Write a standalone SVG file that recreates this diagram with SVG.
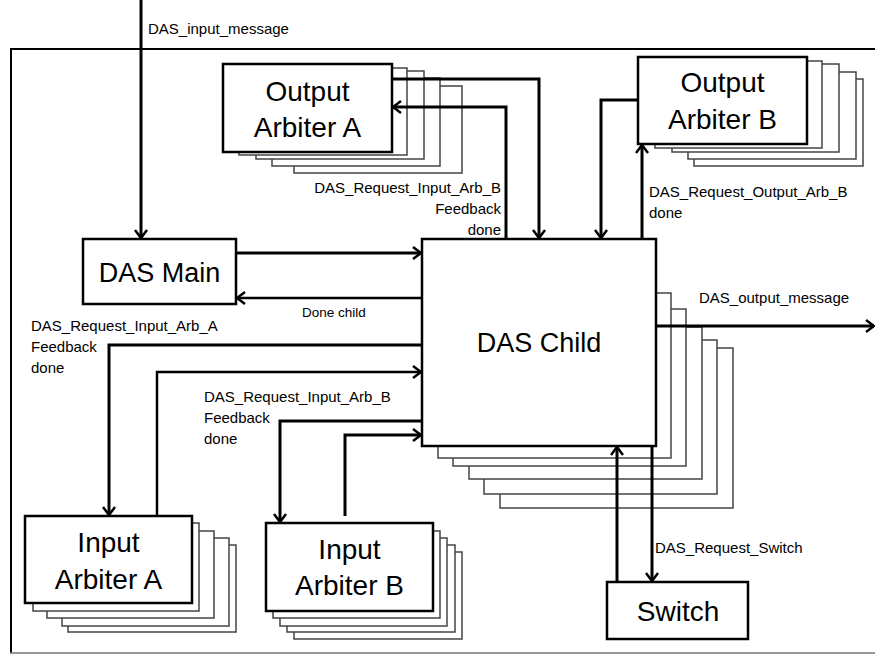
<svg xmlns="http://www.w3.org/2000/svg" width="875" height="654" viewBox="0 0 875 654">
<defs>
<style>
.main{fill:#fff;stroke:#000;stroke-width:2.5}
.sh{fill:#fff;stroke:#444;stroke-width:1.5}
.big{font-family:"Liberation Sans",Arial,sans-serif;font-size:28px;fill:#000;text-anchor:middle}
.lbl{font-family:"Liberation Sans",Arial,sans-serif;font-size:15px;fill:#000}
.c{fill:none;stroke:#000;stroke-width:3}
.t{fill:none;stroke:#000;stroke-width:2.5}
</style>
<marker id="ah" markerUnits="userSpaceOnUse" markerWidth="14" markerHeight="14" viewBox="0 0 14 14" refX="12" refY="7" orient="auto">
<path d="M4,1 L12,7 L4,13" fill="none" stroke="#000" stroke-width="2.5"/>
</marker>
</defs>
<rect width="875" height="654" fill="#fff"/>
<g id="frame">
<line x1="11" y1="49" x2="875" y2="49" stroke="#000" stroke-width="2"/>
<line x1="11" y1="48" x2="11" y2="653" stroke="#000" stroke-width="2"/>
<line x1="10" y1="653" x2="875" y2="653" stroke="#777" stroke-width="1.5"/>
</g>
<g id="output-arbiter-a">
<rect class="sh" x="294" y="86" width="168" height="87"/>
<rect class="sh" x="272" y="78" width="168" height="88"/>
<rect class="sh" x="256" y="71" width="168" height="88"/>
<rect class="sh" x="239" y="68" width="168" height="87"/>
<rect class="main" x="223" y="64" width="169" height="88"/>
<text class="big" x="307.5" y="101">Output</text>
<text class="big" x="307.5" y="137">Arbiter A</text>
</g>
<g id="output-arbiter-b">
<rect class="sh" x="694" y="79" width="169" height="87"/>
<rect class="sh" x="688" y="72" width="168" height="87"/>
<rect class="sh" x="672" y="64" width="167" height="88"/>
<rect class="sh" x="655" y="61" width="167" height="87"/>
<rect class="main" x="638" y="57" width="169" height="87"/>
<text class="big" x="722.5" y="92">Output</text>
<text class="big" x="722.5" y="129">Arbiter B</text>
</g>
<g id="das-main">
<rect class="main" x="83" y="239" width="153" height="65"/>
<text class="big" x="159.5" y="282" style="font-size:27px">DAS Main</text>
</g>
<g id="das-child">
<rect class="sh" x="500" y="348" width="233" height="160"/>
<rect class="sh" x="484" y="340" width="233" height="154"/>
<rect class="sh" x="469" y="327" width="233" height="152"/>
<rect class="sh" x="453" y="309" width="233" height="157"/>
<rect class="sh" x="438" y="293" width="233" height="165"/>
<rect class="main" x="422" y="239" width="234" height="207"/>
<text class="big" x="539" y="352" style="font-size:27px">DAS Child</text>
</g>
<g id="input-arbiter-a">
<rect class="sh" x="68" y="545" width="168" height="87"/>
<rect class="sh" x="62" y="538" width="167" height="88"/>
<rect class="sh" x="47" y="531" width="167" height="87"/>
<rect class="sh" x="33" y="523" width="166" height="88"/>
<rect class="main" x="25" y="516" width="167" height="87"/>
<text class="big" x="108.5" y="552">Input</text>
<text class="big" x="108.5" y="589">Arbiter A</text>
</g>
<g id="input-arbiter-b">
<rect class="sh" x="294" y="552" width="168" height="87"/>
<rect class="sh" x="287" y="545" width="168" height="87"/>
<rect class="sh" x="280" y="538" width="167" height="88"/>
<rect class="sh" x="273" y="531" width="167" height="87"/>
<rect class="main" x="266" y="523" width="167" height="88"/>
<text class="big" x="349.5" y="559">Input</text>
<text class="big" x="349.5" y="595">Arbiter B</text>
</g>
<g id="switch">
<rect class="main" x="607" y="582" width="141" height="57"/>
<text class="big" x="678" y="621">Switch</text>
</g>
<g id="connectors">
<path class="c" d="M141,0 V238" marker-end="url(#ah)"/>
<path class="c" d="M236,253 H421" marker-end="url(#ah)"/>
<path class="t" d="M422,298 H237" marker-end="url(#ah)"/>
<path class="c" d="M422,345 H109 V515" marker-end="url(#ah)"/>
<path class="t" d="M157,515 V372 H421" marker-end="url(#ah)"/>
<path class="c" d="M422,421 H280 V522" marker-end="url(#ah)"/>
<path class="c" d="M345,516 V435 H421" marker-end="url(#ah)"/>
<path class="c" d="M392,79 H539 V238" marker-end="url(#ah)"/>
<path class="c" d="M506,239 V107 H393" marker-end="url(#ah)"/>
<path class="c" d="M638,100 H601 V238" marker-end="url(#ah)"/>
<path class="c" d="M642,239 V145" marker-end="url(#ah)"/>
<path class="c" d="M656,326 H874" marker-end="url(#ah)"/>
<path class="c" d="M617,581 V447" marker-end="url(#ah)"/>
<path class="c" d="M652,446 V581" marker-end="url(#ah)"/>
</g>
<g id="labels">
<text class="lbl" x="148" y="34">DAS_input_message</text>
<text class="lbl" x="501" y="193" text-anchor="end">DAS_Request_Input_Arb_B<tspan x="501" dy="21">Feedback</tspan><tspan x="501" dy="21">done</tspan></text>
<text class="lbl" x="649" y="197">DAS_Request_Output_Arb_B<tspan x="649" dy="21">done</tspan></text>
<text class="lbl" x="302" y="317" style="font-size:13.5px">Done child</text>
<text class="lbl" x="31" y="331">DAS_Request_Input_Arb_A<tspan x="31" dy="21">Feedback</tspan><tspan x="31" dy="21">done</tspan></text>
<text class="lbl" x="204" y="402">DAS_Request_Input_Arb_B<tspan x="204" dy="21">Feedback</tspan><tspan x="204" dy="21">done</tspan></text>
<text class="lbl" x="699" y="303">DAS_output_message</text>
<text class="lbl" x="655" y="553">DAS_Request_Switch</text>
</g>
</svg>
